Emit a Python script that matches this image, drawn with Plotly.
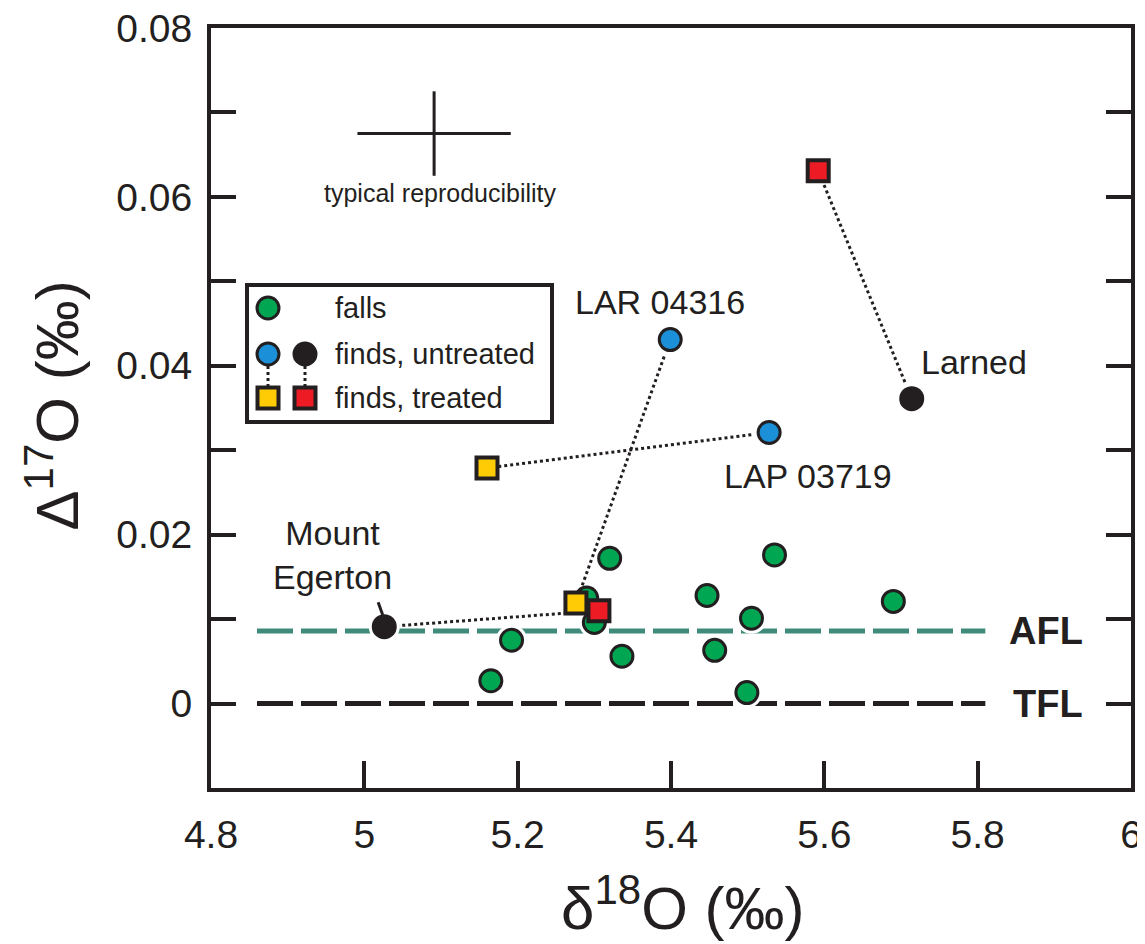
import plotly.graph_objects as go

# ---------------- data ----------------
falls_d18O = [5.165, 5.192, 5.320, 5.535, 5.290, 5.300, 5.447, 5.505, 5.336, 5.457, 5.499, 5.690]
falls_D17O = [0.0027, 0.0075, 0.0172, 0.0176, 0.0125, 0.0096, 0.0128, 0.0101, 0.0056, 0.0063, 0.0013, 0.0121]

# finds: untreated vs treated, paired
blue_names = ["LAR 04316", "LAP 03719"]
blue_untreated_d18O = [5.399, 5.528]
blue_untreated_D17O = [0.0431, 0.0321]
yellow_treated_d18O = [5.276, 5.160]
yellow_treated_D17O = [0.0119, 0.0279]

black_names = ["Larned", "Mount Egerton"]
black_untreated_d18O = [5.714, 5.026]
black_untreated_D17O = [0.0361, 0.0091]
red_treated_d18O = [5.592, 5.306]
red_treated_D17O = [0.0631, 0.0110]

AFL_D17O = 0.0086
TFL_D17O = 0.0
fl_x = [4.86, 5.81]

repro_center = [5.091, 0.0675]
repro_err = [0.1, 0.005]

x_ticks = [4.8, 5.0, 5.2, 5.4, 5.6, 5.8, 6.0]
x_ticktext = ["4.8", "5", "5.2", "5.4", "5.6", "5.8", "6"]
y_ticks = [-0.01, 0.0, 0.01, 0.02, 0.03, 0.04, 0.05, 0.06, 0.07, 0.08]
y_ticktext = [" ", "0", " ", "0.02", " ", "0.04", " ", "0.06", " ", "0.08"]

# ---------------- style ----------------
INK = "#231f20"
GREEN = "#00a651"
BLUE = "#1b8fd7"
BLACK = "#231f20"
YELLOW = "#ffcb05"
RED = "#ed1c24"
TEAL = "#3f8a7a"
FONT = "Liberation Sans, Arial, Helvetica, sans-serif"

fig = go.Figure()

# fractionation lines
fig.add_trace(go.Scatter(x=fl_x, y=[AFL_D17O, AFL_D17O], mode="lines",
                         line=dict(color=TEAL, width=5, dash="36px,8px"), hoverinfo="skip"))
fig.add_trace(go.Scatter(x=fl_x, y=[TFL_D17O, TFL_D17O], mode="lines",
                         line=dict(color=INK, width=5, dash="36px,8px"), hoverinfo="skip"))

# reproducibility cross
fig.add_trace(go.Scatter(x=[repro_center[0]], y=[repro_center[1]], mode="markers",
                         marker=dict(size=1, color="rgba(0,0,0,0)"),
                         error_x=dict(type="constant", value=repro_err[0], width=0, thickness=3, color=INK),
                         error_y=dict(type="constant", value=repro_err[1], width=0, thickness=3, color=INK),
                         hoverinfo="skip"))

# falls with white halo
fig.add_trace(go.Scatter(x=falls_d18O, y=falls_D17O, mode="markers",
                         marker=dict(size=31, color="white", line=dict(width=0)), hoverinfo="skip"))
fig.add_trace(go.Scatter(x=falls_d18O, y=falls_D17O, mode="markers",
                         marker=dict(size=22, color=GREEN, line=dict(color=INK, width=3)), name="falls"))

# tie lines
for xs, ys, xt, yt in [(blue_untreated_d18O, blue_untreated_D17O, yellow_treated_d18O, yellow_treated_D17O),
                       (black_untreated_d18O, black_untreated_D17O, red_treated_d18O, red_treated_D17O)]:
    for i in range(len(xs)):
        fig.add_trace(go.Scatter(x=[xs[i], xt[i]], y=[ys[i], yt[i]], mode="lines",
                                 line=dict(color=INK, width=3, dash="dot"), hoverinfo="skip"))

# untreated finds (circles) with halo
ux = blue_untreated_d18O + black_untreated_d18O
uy = blue_untreated_D17O + black_untreated_D17O
fig.add_trace(go.Scatter(x=ux, y=uy, mode="markers",
                         marker=dict(size=31, color="white", line=dict(width=0)), hoverinfo="skip"))
fig.add_trace(go.Scatter(x=blue_untreated_d18O, y=blue_untreated_D17O, mode="markers",
                         marker=dict(size=22, color=BLUE, line=dict(color=INK, width=3))))
fig.add_trace(go.Scatter(x=black_untreated_d18O, y=black_untreated_D17O, mode="markers",
                         marker=dict(size=22, color=BLACK, line=dict(color=INK, width=3))))

# treated finds (squares)
fig.add_trace(go.Scatter(x=yellow_treated_d18O, y=yellow_treated_D17O, mode="markers",
                         marker=dict(symbol="square", size=21, color=YELLOW, line=dict(color=INK, width=4))))
fig.add_trace(go.Scatter(x=red_treated_d18O, y=red_treated_D17O, mode="markers",
                         marker=dict(symbol="square", size=21, color=RED, line=dict(color=INK, width=4))))

# ---------------- legend (overlay axes in screen-pixel units) ----------------
leg_box = dict(x0=247, x1=552, y0=285, y1=422)
leg_rows_y = [308, 354, 398]
leg_col_x = [268, 305]
leg_text_x = 333

fig.add_trace(go.Scatter(x=[leg_col_x[0]], y=[leg_rows_y[0]], xaxis="x2", yaxis="y2", mode="markers",
                         marker=dict(size=22, color=GREEN, line=dict(color=INK, width=3)), cliponaxis=False))
for cx in leg_col_x:
    fig.add_trace(go.Scatter(x=[cx, cx], y=[leg_rows_y[1], leg_rows_y[2]], xaxis="x2", yaxis="y2",
                             mode="lines", line=dict(color=INK, width=3, dash="dot"), cliponaxis=False))
fig.add_trace(go.Scatter(x=leg_col_x, y=[leg_rows_y[1]] * 2, xaxis="x2", yaxis="y2", mode="markers",
                         marker=dict(size=22, color=[BLUE, BLACK], line=dict(color=INK, width=3)), cliponaxis=False))
fig.add_trace(go.Scatter(x=leg_col_x, y=[leg_rows_y[2]] * 2, xaxis="x2", yaxis="y2", mode="markers",
                         marker=dict(symbol="square", size=21, color=[YELLOW, RED], line=dict(color=INK, width=4)),
                         cliponaxis=False))

fig.add_shape(type="rect", xref="x2", yref="y2", line=dict(color=INK, width=4), layer="below", **leg_box)
for txt, yy in zip(["falls", "finds, untreated", "finds, treated"], leg_rows_y):
    fig.add_annotation(x=leg_text_x, y=yy, xref="x2", yref="y2", text=txt, showarrow=False,
                       xanchor="left", yanchor="middle", font=dict(family=FONT, size=29, color=INK))

# ---------------- labels ----------------
labels = [
    ("LAR 04316", 5.386, 0.0475),
    ("LAP 03719", 5.579, 0.0270),
    ("Larned", 5.795, 0.0405),
    ("Mount<br>Egerton", 4.959, 0.0176),
]
for txt, lx, ly in labels:
    fig.add_annotation(x=lx, y=ly, text=txt, showarrow=False, xanchor="center", yanchor="middle",
                       font=dict(family=FONT, size=34, color=INK))

fig.add_shape(type="line", x0=5.018, y0=0.0120, x1=5.024, y1=0.0105, line=dict(color=INK, width=3))

fig.add_annotation(x=5.099, y=0.0605, text="typical reproducibility", showarrow=False,
                   font=dict(family=FONT, size=25, color=INK))

fig.add_annotation(x=1.0, xref="paper", xanchor="right", xshift=-46, y=AFL_D17O, text="<b>AFL</b>",
                   showarrow=False, yanchor="middle", font=dict(family=FONT, size=38, color=INK))
fig.add_annotation(x=1.0, xref="paper", xanchor="right", xshift=-46, y=TFL_D17O, text="<b>TFL</b>",
                   showarrow=False, yanchor="middle", font=dict(family=FONT, size=38, color=INK))

# axis titles
fig.add_annotation(x=0.5, xref="paper", xshift=11, y=-0.163, yshift=8, yref="paper", yanchor="middle",
                   text="δ<sup>18</sup>O (‰)", showarrow=False,
                   font=dict(family=FONT, size=60, color=INK))
fig.add_annotation(x=-0.172, xref="paper", xanchor="center", y=0.503, yref="paper", textangle=-90,
                   text="Δ<sup>17</sup>O (‰)", showarrow=False,
                   font=dict(family=FONT, size=60, color=INK))

# ---------------- axes ----------------
axis_common = dict(showgrid=False, zeroline=False, showline=True, linewidth=4, linecolor=INK,
                   ticks="inside", tickwidth=4, tickcolor=INK, automargin=False,
                   ticklabeloverflow="allow",
                   tickfont=dict(family=FONT, size=39, color=INK))

# the page body has an 8px default margin, so the figure is offset by 8px
fig.update_layout(
    width=1137, height=936,
    margin=dict(l=203, r=14, t=20, b=156),
    plot_bgcolor="white", paper_bgcolor="white",
    showlegend=False,
    xaxis=dict(range=[4.8, 6.0], tickvals=x_ticks, ticktext=x_ticktext, ticklen=27, mirror=True,
               ticklabelstandoff=9, **axis_common),
    yaxis=dict(range=[-0.01, 0.08], tickvals=y_ticks, ticktext=y_ticktext, ticklen=25, mirror="ticks",
               ticklabelstandoff=7, **axis_common),
    xaxis2=dict(range=[211, 1131], overlaying="x", anchor="y2", visible=False),
    yaxis2=dict(range=[788, 28], overlaying="y", anchor="x2", visible=False),
)

fig.write_html("out.html")
